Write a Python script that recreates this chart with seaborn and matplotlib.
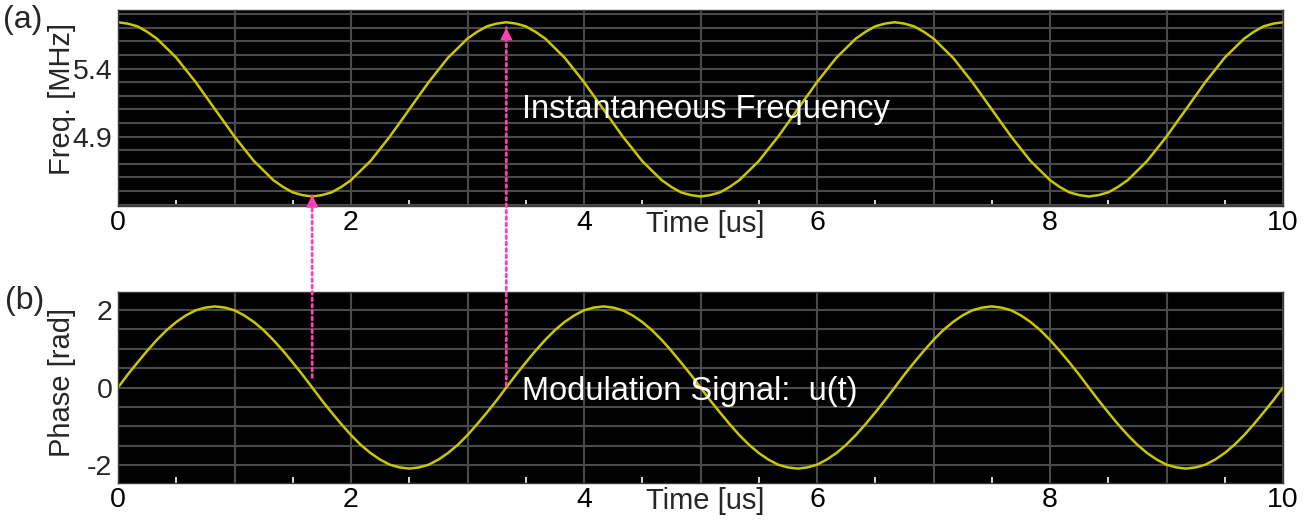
import numpy as np
import pandas as pd
import matplotlib
matplotlib.use("Agg")
import matplotlib.pyplot as plt
import seaborn as sns
from matplotlib.ticker import MultipleLocator, FixedLocator, FuncFormatter
from matplotlib.patches import ConnectionPatch

# ---- data ----
time_us = [0.0, 0.083, 0.167, 0.25, 0.333, 0.417, 0.5, 0.583, 0.667, 0.75,
           0.833, 0.917, 1.0, 1.083, 1.167, 1.25, 1.333, 1.417, 1.5, 1.583,
           1.667, 1.75, 1.833, 1.917, 2.0, 2.083, 2.167, 2.25, 2.333, 2.417,
           2.5, 2.583, 2.667, 2.75, 2.833, 2.917, 3.0, 3.083, 3.167, 3.25,
           3.333, 3.417, 3.5, 3.583, 3.667, 3.75, 3.833, 3.917, 4.0, 4.083,
           4.167, 4.25, 4.333, 4.417, 4.5, 4.583, 4.667, 4.75, 4.833, 4.917,
           5.0, 5.083, 5.167, 5.25, 5.333, 5.417, 5.5, 5.583, 5.667, 5.75,
           5.833, 5.917, 6.0, 6.083, 6.167, 6.25, 6.333, 6.417, 6.5, 6.583,
           6.667, 6.75, 6.833, 6.917, 7.0, 7.083, 7.167, 7.25, 7.333, 7.417,
           7.5, 7.583, 7.667, 7.75, 7.833, 7.917, 8.0, 8.083, 8.167, 8.25,
           8.333, 8.417, 8.5, 8.583, 8.667, 8.75, 8.833, 8.917, 9.0, 9.083,
           9.167, 9.25, 9.333, 9.417, 9.5, 9.583, 9.667, 9.75, 9.833, 9.917,
           10.0]
freq_mhz = [5.74, 5.73, 5.71, 5.67, 5.62, 5.55, 5.48, 5.39, 5.30, 5.20,
            5.10, 5.00, 4.90, 4.81, 4.72, 4.65, 4.58, 4.53, 4.49, 4.47,
            4.46, 4.47, 4.49, 4.53, 4.58, 4.65, 4.72, 4.81, 4.90, 5.00,
            5.10, 5.20, 5.30, 5.39, 5.48, 5.55, 5.62, 5.67, 5.71, 5.73,
            5.74, 5.73, 5.71, 5.67, 5.62, 5.55, 5.48, 5.39, 5.30, 5.20,
            5.10, 5.00, 4.90, 4.81, 4.72, 4.65, 4.58, 4.53, 4.49, 4.47,
            4.46, 4.47, 4.49, 4.53, 4.58, 4.65, 4.72, 4.81, 4.90, 5.00,
            5.10, 5.20, 5.30, 5.39, 5.48, 5.55, 5.62, 5.67, 5.71, 5.73,
            5.74, 5.73, 5.71, 5.67, 5.62, 5.55, 5.48, 5.39, 5.30, 5.20,
            5.10, 5.00, 4.90, 4.81, 4.72, 4.65, 4.58, 4.53, 4.49, 4.47,
            4.46, 4.47, 4.49, 4.53, 4.58, 4.65, 4.72, 4.81, 4.90, 5.00,
            5.10, 5.20, 5.30, 5.39, 5.48, 5.55, 5.62, 5.67, 5.71, 5.73,
            5.74]
phase_rad = [0.0, 0.33, 0.64, 0.94, 1.22, 1.47, 1.68, 1.85, 1.98, 2.05,
             2.08, 2.05, 1.98, 1.85, 1.68, 1.47, 1.22, 0.94, 0.64, 0.33,
             0.0, -0.33, -0.64, -0.94, -1.22, -1.47, -1.68, -1.85, -1.98, -2.05,
             -2.08, -2.05, -1.98, -1.85, -1.68, -1.47, -1.22, -0.94, -0.64, -0.33,
             0.0, 0.33, 0.64, 0.94, 1.22, 1.47, 1.68, 1.85, 1.98, 2.05,
             2.08, 2.05, 1.98, 1.85, 1.68, 1.47, 1.22, 0.94, 0.64, 0.33,
             0.0, -0.33, -0.64, -0.94, -1.22, -1.47, -1.68, -1.85, -1.98, -2.05,
             -2.08, -2.05, -1.98, -1.85, -1.68, -1.47, -1.22, -0.94, -0.64, -0.33,
             0.0, 0.33, 0.64, 0.94, 1.22, 1.47, 1.68, 1.85, 1.98, 2.05,
             2.08, 2.05, 1.98, 1.85, 1.68, 1.47, 1.22, 0.94, 0.64, 0.33,
             0.0, -0.33, -0.64, -0.94, -1.22, -1.47, -1.68, -1.85, -1.98, -2.05,
             -2.08, -2.05, -1.98, -1.85, -1.68, -1.47, -1.22, -0.94, -0.64, -0.33,
             0.0]
freq_ticks = [4.9, 5.4]
phase_ticks = [-2, 0, 2]
time_ticks = [0, 2, 4, 6, 8, 10]
# arrow annotations: tip (freq) and tail (phase) values
arrow_tip_freq = [4.47, 5.70]
arrow_tail_phase = [0.26, 0.05]

df = pd.DataFrame({"time": time_us, "freq": freq_mhz, "phase": phase_rad})

sns.set_style("dark", {"axes.facecolor": "black"})
plt.rcParams["font.family"] = ["Liberation Sans", "DejaVu Sans"]

W, H = 1307, 520
fig = plt.figure(figsize=(W / 100, H / 100), dpi=100)
fig.patch.set_facecolor("white")

def px_axes(l, t, r, b):
    return fig.add_axes([l / W, 1 - b / H, (r - l) / W, (b - t) / H])

ax1 = px_axes(118, 10, 1283, 206)
ax2 = px_axes(118, 292, 1283, 483)

curve_color = "#c8c800"
grid_color = "#4a4a4a"
pink = "#ff3fb4"
TICK_FS = 20.5
LABEL_FS = 21
TEXT_FS = 23.5

sns.lineplot(data=df, x="time", y="freq", ax=ax1, color=curve_color, lw=1.8)
sns.lineplot(data=df, x="time", y="phase", ax=ax2, color=curve_color, lw=1.8)

for ax in (ax1, ax2):
    ax.set_facecolor("black")
    ax.set_xlim(0, 10)
    ax.xaxis.set_major_locator(MultipleLocator(1))
    ax.xaxis.set_major_formatter(
        FuncFormatter(lambda v, p: f"{int(round(v))}" if int(round(v)) in time_ticks else ""))
    ax.xaxis.set_minor_locator(MultipleLocator(0.5))
    ax.tick_params(axis="x", which="major", length=0, pad=3, labelsize=TICK_FS, colors="black")
    ax.tick_params(axis="x", which="minor", length=4, width=1.2, direction="in",
                   color="white", bottom=True)
    ax.tick_params(axis="y", which="both", length=0, pad=4, labelsize=TICK_FS)
    ax.xaxis.grid(True, which="major", color=grid_color, lw=1.5)
    ax.yaxis.grid(True, which="both", color=grid_color, lw=1.5)
    for s in ax.spines.values():
        s.set_color("#3a3a3a")
        s.set_linewidth(1)
    ax.set_xlabel("Time [us]", fontsize=LABEL_FS, va="top")
    ax.xaxis.set_label_coords(0.504, -0.02)

ax1.set_ylim(4.39, 5.83)
ax1.yaxis.set_major_locator(FixedLocator(freq_ticks))
ax1.yaxis.set_major_formatter(FuncFormatter(lambda v, p: f"{v:.1f}"))
ax1.yaxis.set_minor_locator(MultipleLocator(0.1))
ax1.set_ylabel("Freq. [MHz]", fontsize=LABEL_FS, va="center")
ax1.yaxis.set_label_coords(-0.048, 0.546)

ax2.set_ylim(-2.45, 2.45)
ax2.yaxis.set_major_locator(FixedLocator(phase_ticks))
ax2.yaxis.set_major_formatter(FuncFormatter(lambda v, p: f"{int(round(v))}"))
ax2.yaxis.set_minor_locator(MultipleLocator(0.5))
ax2.set_ylabel("Phase [rad]", fontsize=LABEL_FS, va="center")
ax2.yaxis.set_label_coords(-0.048, 0.529)

ax1.text(3.47, 5.036, "Instantaneous Frequency", color="white", fontsize=TEXT_FS,
         ha="left", va="baseline")
ax2.text(3.47, -0.31, "Modulation Signal:  u(t)", color="white", fontsize=TEXT_FS,
         ha="left", va="baseline")

fig.text(23 / W, 1 - 20 / H, "(a)", fontsize=23, ha="center", va="center")
fig.text(25 / W, 1 - 301 / H, "(b)", fontsize=23, ha="center", va="center")

# arrows from the modulation signal to the frequency extrema
f = np.array(freq_mhz)
t = np.array(time_us)
i_min = int(np.argmin(f[:40]))
i_max = 40
for k, idx in enumerate([i_min, i_max]):
    tx = t[idx]
    con = ConnectionPatch(xyA=(tx, arrow_tail_phase[k]), coordsA=ax2.transData,
                          xyB=(tx, arrow_tip_freq[k]), coordsB=ax1.transData,
                          arrowstyle="-", linestyle=(0, (1, 1.3)), lw=2, color=pink,
                          shrinkA=0, shrinkB=0, zorder=5)
    fig.add_artist(con)
    ax1.annotate("", xy=(tx, arrow_tip_freq[k]), xycoords="data",
                 xytext=(0, -12), textcoords="offset pixels",
                 arrowprops=dict(arrowstyle="-|>", color=pink, lw=1.2,
                                 mutation_scale=18, shrinkA=0, shrinkB=0),
                 annotation_clip=False, zorder=6)

fig.savefig("out.png", dpi=100)
